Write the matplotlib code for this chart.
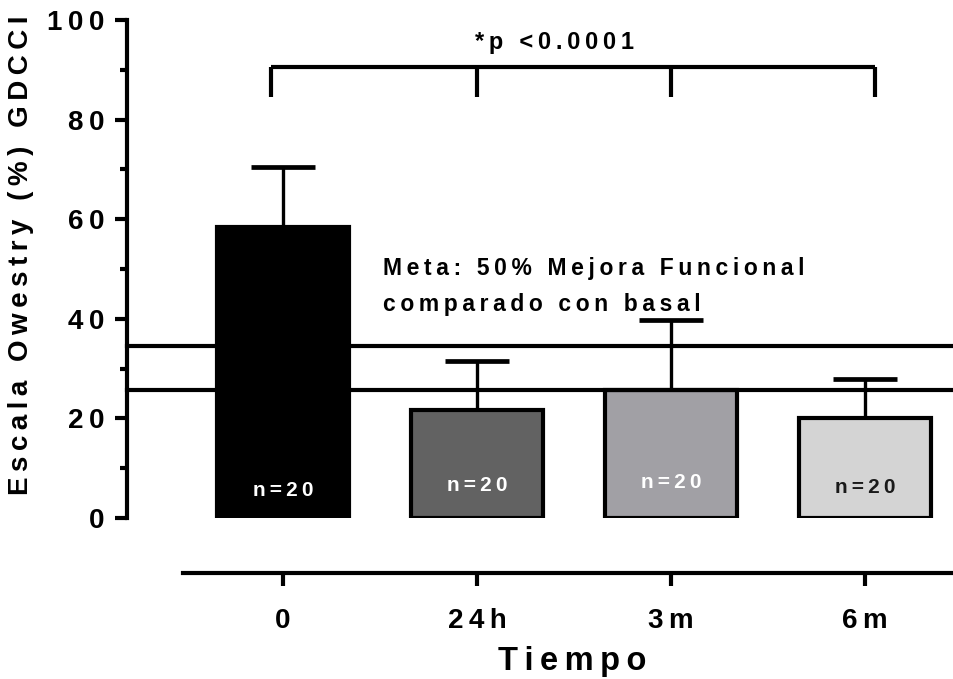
import matplotlib
matplotlib.use("Agg")
import matplotlib.pyplot as plt
from matplotlib.ticker import MultipleLocator

plt.rcParams['font.family'] = ['Liberation Sans', 'DejaVu Sans']
plt.rcParams['font.weight'] = 'bold'

# data
groups = ["0", "24h", "3m", "6m"]
means = [58.5, 21.7, 25.7, 20.1]
sd = [12.0, 9.8, 14.0, 7.8]
colors = ["#000000", "#626262", "#a1a0a5", "#d4d4d4"]
n_labels = ["n=20", "n=20", "n=20", "n=20"]
n_colors = ["white", "white", "white", "#1a1a1a"]
n_label_y = [5.6, 6.5, 7.2, 6.2]
goal_lines = [34.5, 25.7]
y_ticks = [0, 20, 40, 60, 80, 100]

SP = "\u2009"


def spaced(s):
    """Imitate Prism letter tracking with thin spaces."""
    return SP.join(list(s))


fig = plt.figure(figsize=(9.54, 6.79), dpi=100)
ax = fig.add_axes([0.133, 0.237, 0.867, 0.7334])

x = list(range(len(groups)))
ax.errorbar(x, means, yerr=[[0] * len(sd), sd], fmt='none', ecolor='black',
            elinewidth=2.4, capsize=23, capthick=3.4, zorder=1)
ax.bar(x, means, width=0.68, color=colors, edgecolor='black', linewidth=3, zorder=2)

for yv in goal_lines:
    ax.axhline(yv, color='black', linewidth=3, zorder=3, clip_on=False)

for xi, lab, c, ly in zip(x, n_labels, n_colors, n_label_y):
    ax.text(xi, ly, spaced(lab), color=c, ha='center', va='center',
            fontsize=15, fontweight='bold', zorder=4)

# significance bracket
br_y, br_drop = 90.6, 84.5
br_x = [-0.06, 1, 2, 3.05]
ax.plot([br_x[0], br_x[-1]], [br_y, br_y], color='black', linewidth=3,
        solid_capstyle='butt', clip_on=False)
for bx in br_x:
    ax.plot([bx, bx], [br_y, br_drop], color='black', linewidth=3,
            solid_capstyle='butt', clip_on=False)
ax.text(1.40, 95.6, "*" + SP + "p" + SP + " " + SP + "<" + SP + spaced("0.0001"),
        ha='center', va='center', fontsize=17, fontweight='bold')

ax.text(0.515, 50.2, spaced("Meta: 50% Mejora Funcional"), ha='left', va='center',
        fontsize=16.5, fontweight='bold')
ax.text(0.515, 42.8, spaced("comparado con basal"), ha='left', va='center',
        fontsize=16.5, fontweight='bold')

ax.set_xlim(-0.804, 3.459)
ax.set_ylim(0, 100)

for side in ['top', 'right']:
    ax.spines[side].set_visible(False)
ax.spines['left'].set_linewidth(3)
ax.spines['left'].set_bounds(0, 100)
ax.spines['bottom'].set_linewidth(3)
ax.spines['bottom'].set_position(('outward', 39.6))
ax.spines['bottom'].set_bounds(-0.515, 3.459)

ax.set_yticks(y_ticks)
ax.set_yticklabels([spaced(str(t)) for t in y_ticks])
ax.yaxis.set_minor_locator(MultipleLocator(10))
ax.tick_params(axis='y', which='major', length=9, width=3, labelsize=20, pad=7)
ax.tick_params(axis='y', which='minor', length=5, width=3)

ax.set_xticks(x)
ax.set_xticklabels([spaced(g) for g in groups])
ax.tick_params(axis='x', which='major', length=9, width=3, labelsize=20, pad=16)

ax.set_xlabel(spaced("Tiempo"), fontsize=23.5, fontweight='bold')
ax.xaxis.label.set_va('center')
ax.xaxis.set_label_coords(0.538, -0.289)
ax.set_ylabel(spaced("Escala Owestry (%) GDCCI"), fontsize=20, fontweight='bold')
ax.yaxis.set_label_coords(-0.112, 0.528)

fig.savefig("out.png", dpi=100)
